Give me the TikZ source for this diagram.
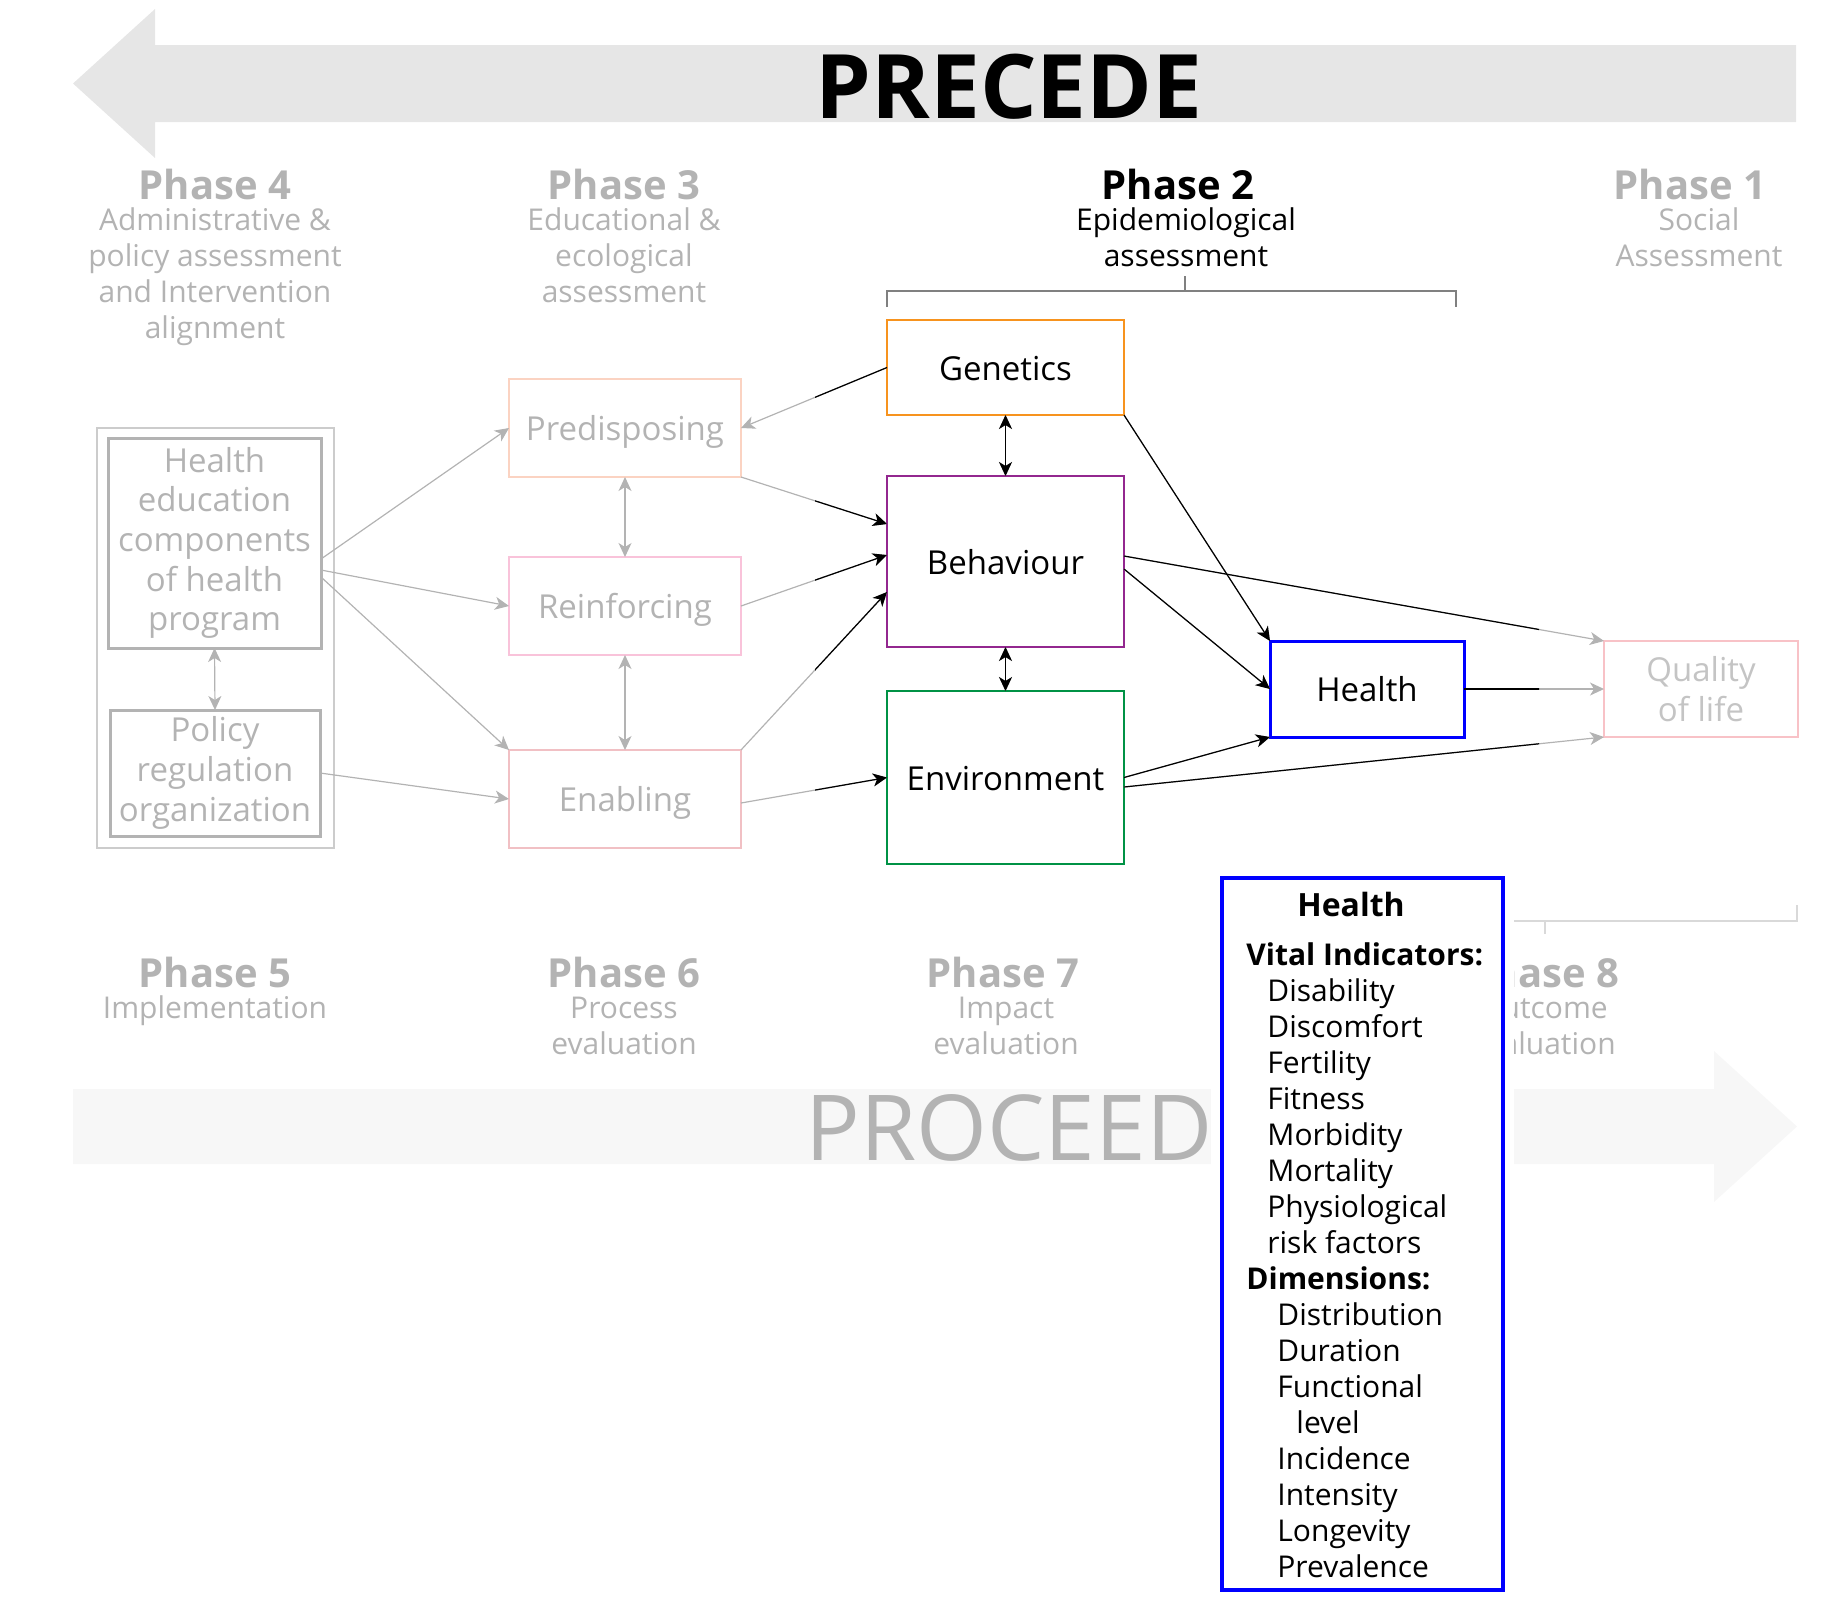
\documentclass[tikz,border=0pt]{standalone}
\usepackage{fontspec}
\setmainfont{Open Sans}
\usetikzlibrary{arrows.meta,calc}
\definecolor{precedefill}{HTML}{E6E6E6}
\definecolor{proceedfill}{HTML}{F7F7F7}
\definecolor{txtgray}{HTML}{B3B3B3}
\definecolor{qoltxt}{HTML}{C4C4C4}
\definecolor{outerg}{HTML}{CCCCCC}
\definecolor{boxgray}{HTML}{B3B3B3}
\definecolor{prec}{HTML}{FBD3C2}
\definecolor{reic}{HTML}{F9C3DA}
\definecolor{enac}{HTML}{F1C0C4}
\definecolor{qolc}{HTML}{F8C2C7}
\definecolor{genc}{HTML}{F7931E}
\definecolor{behc}{HTML}{93278F}
\definecolor{envc}{HTML}{009245}
\definecolor{hblue}{HTML}{0000FF}
\definecolor{brkc}{HTML}{808080}
\definecolor{lbrkc}{HTML}{D9D9D9}
\definecolor{cgray}{HTML}{B3B3B3}
\newcommand\midconns[1]{%
  \draw[conn,#1] (gen.west) -- (pre.east);
  \draw[conn,#1] (pre.south east) -- ([yshift=18.75pt]beh.west);
  \draw[conn,#1] (rei.east) -- ([yshift=3.25pt]beh.west);
  \draw[conn,#1] (ena.north east) -- ([yshift=-15.25pt]beh.west);
  \draw[conn,#1] ([yshift=-2pt]ena.east) -- (env.west);
  \draw[dconn,#1] (gen.south) -- (beh.north);
  \draw[dconn,#1] (beh.south) -- (env.north);
  \draw[conn,#1] (gen.south east) -- (hlt.north west);
  \draw[conn,#1] ([yshift=-3.75pt]beh.east) -- (hlt.west);
  \draw[conn,#1] ([yshift=2.75pt]beh.east) -- (qol.north west);
  \draw[conn,#1] (env.east) -- (hlt.south west);
  \draw[conn,#1] ([yshift=-4.75pt]env.east) -- (qol.south west);
  \draw[conn,#1] (hlt.east) -- (qol.west);
}
\begin{document}
\begin{tikzpicture}[x=0.5pt,y=-0.5pt,
  lbl/.style={font=\fontsize{16.5}{19.8}\selectfont, align=center},
  bx/.style={draw, line width=1.3pt, inner sep=0pt, outer sep=0pt, lbl},
  one/.style={text height=17.6pt, text depth=4.8pt},
  ptitle/.style={font=\fontsize{20}{24}\selectfont\bfseries, anchor=base, inner sep=0pt},
  psub/.style={font=\fontsize{15}{18}\selectfont, anchor=base, align=center, inner sep=0pt},
  conn/.style={line width=0.6pt, -{Stealth[length=7pt,width=6.5pt,inset=2pt]}},
  dconn/.style={line width=0.6pt, {Stealth[length=7pt,width=6.5pt,inset=2pt]}-{Stealth[length=7pt,width=6.5pt,inset=2pt]}},
  brk/.style={draw=brkc, line width=0.8pt},
  lbrk/.style={draw=lbrkc, line width=0.8pt}
]
\useasboundingbox (0,0) rectangle (1847,1618);

% PRECEDE arrow
\fill[precedefill] (73,83.5) -- (155,9) -- (155,45) -- (1796,45) -- (1796,122) -- (155,122) -- (155,158) -- cycle;
\node[font=\fontsize{44.5}{52}\selectfont\bfseries, anchor=base, inner sep=0pt] (precede) at (1009,118) {PRECEDE};

% PROCEED arrow
\fill[proceedfill] (73,1089) -- (1714,1089) -- (1714,1051) -- (1797,1126.5) -- (1714,1202) -- (1714,1164) -- (73,1164) -- cycle;
\node[font=\fontsize{45.5}{52}\selectfont, text=txtgray, anchor=base, inner sep=0pt] (proceed) at (1009,1160) {PROCEED};

% upper phases (base anchor = last line baseline)
\node[ptitle, text=txtgray] (p4) at (215,199) {Phase 4};
\node[psub, text=txtgray] (p4s) at (215,338) {Administrative \&\\policy assessment\\and Intervention\\alignment};
\node[ptitle, text=txtgray] (p3) at (624,199) {Phase 3};
\node[psub, text=txtgray] (p3s) at (624,302) {Educational \&\\ecological\\assessment};
\node[ptitle] (p2) at (1178,199) {Phase 2};
\node[psub] (p2s) at (1186,266) {Epidemiological\\assessment};
\node[ptitle, text=txtgray] (p1) at (1690,199) {Phase 1};
\node[psub, text=txtgray] (p1s) at (1699,266) {Social\\Assessment};

% lower phases
\node[ptitle, text=txtgray] (p5) at (215,987) {Phase 5};
\node[psub, text=txtgray] (p5s) at (215,1018) {Implementation};
\node[ptitle, text=txtgray] (p6) at (624,987) {Phase 6};
\node[psub, text=txtgray] (p6s) at (624,1054) {Process\\evaluation};
\node[ptitle, text=txtgray] (p7) at (1003,987) {Phase 7};
\node[psub, text=txtgray] (p7s) at (1006,1054) {Impact\\evaluation};
\node[ptitle, text=txtgray] (p8) at (1543,987) {Phase 8};
\node[psub, text=txtgray] (p8s) at (1543,1054) {Outcome\\evaluation};

% brackets
\draw[brk] (887,307) -- (887,291) -- (1456,291) -- (1456,307);
\draw[brk] (1185,291) -- (1185,276);
\draw[lbrk] (1293,905) -- (1293,921) -- (1797,921) -- (1797,905);
\draw[lbrk] (1545,921) -- (1545,934);

% left group
\node[draw=outerg, line width=0.6pt, inner sep=0pt, minimum width=118.5pt, minimum height=210pt] (outer) at (215.5,638) {};
\node[bx, draw=boxgray, line width=1.5pt, text=txtgray, minimum width=106.5pt, minimum height=105pt] (hed) at (214.5,543) {Health\\education\\components\\of health\\program};
\node[bx, draw=boxgray, line width=1.5pt, text=txtgray, minimum width=105pt, minimum height=63pt] (pol) at (215,773) {Policy\\regulation\\organization};

% phase 3 boxes
\node[bx, one, draw=prec, text=txtgray, minimum width=116pt, minimum height=49pt] (pre) at (625,428) {Predisposing};
\node[bx, one, draw=reic, text=txtgray, minimum width=116pt, minimum height=49pt] (rei) at (625,606) {Reinforcing};
\node[bx, one, draw=enac, text=txtgray, minimum width=116pt, minimum height=49pt] (ena) at (625,799) {Enabling};

% phase 2 boxes
\node[bx, one, draw=genc, minimum width=118.5pt, minimum height=47.5pt] (gen) at (1005.5,367.5) {Genetics};
\node[bx, one, draw=behc, minimum width=118.5pt, minimum height=85.5pt] (beh) at (1005.5,561.5) {Behaviour};
\node[bx, one, draw=envc, minimum width=118.5pt, minimum height=86.5pt] (env) at (1005.5,777.5) {Environment};
\node[bx, one, draw=hblue, line width=1.5pt, minimum width=97pt, minimum height=48pt] (hlt) at (1367,689) {Health};
\node[bx, draw=qolc, text=qoltxt, minimum width=97pt, minimum height=48pt] (qol) at (1701,689) {Quality\\of life};

% left grey connectors
\draw[conn,cgray] ([yshift=-8pt]hed.east) -- (pre.west);
\draw[conn,cgray] ([yshift=-13.5pt]hed.east) -- (rei.west);
\draw[conn,cgray] ([yshift=-17pt]hed.east) -- (ena.north west);
\draw[conn,cgray] (pol.east) -- (ena.west);
\draw[dconn,cgray] (hed.south) -- (pol.north);
\draw[dconn,cgray] (pre.south) -- (rei.north);
\draw[dconn,cgray] (rei.south) -- (ena.north);

% middle connectors: grey, then black inside phase-2 band
\midconns{cgray}
\begin{scope}
  \clip (815,0) rectangle (1539,1618);
  \midconns{black}
\end{scope}

% big health box
\fill[white] (1211,868) rectangle (1514,1600);
\node[draw=hblue, line width=2pt, fill=white, inner sep=0pt, minimum width=140.5pt, minimum height=356pt] (big) at (1362.5,1234) {};
\node[font=\fontsize{16}{19}\selectfont\bfseries, anchor=base, inner sep=0pt] (bigt) at (1351,916) {Health};
\node[font=\fontsize{15}{18}\selectfont, anchor=base west, align=left, inner sep=0pt] (bigl) at (1246,1577) {%
\textbf{Vital Indicators:}\\
\hspace*{10.5pt}Disability\\
\hspace*{10.5pt}Discomfort\\
\hspace*{10.5pt}Fertility\\
\hspace*{10.5pt}Fitness\\
\hspace*{10.5pt}Morbidity\\
\hspace*{10.5pt}Mortality\\
\hspace*{10.5pt}Physiological\\
\hspace*{10.5pt}risk factors\\
\textbf{Dimensions:}\\
\hspace*{15.5pt}Distribution\\
\hspace*{15.5pt}Duration\\
\hspace*{15.5pt}Functional\\
\hspace*{25pt}level\\
\hspace*{15.5pt}Incidence\\
\hspace*{15.5pt}Intensity\\
\hspace*{15.5pt}Longevity\\
\hspace*{15.5pt}Prevalence};
\end{tikzpicture}
\end{document}
